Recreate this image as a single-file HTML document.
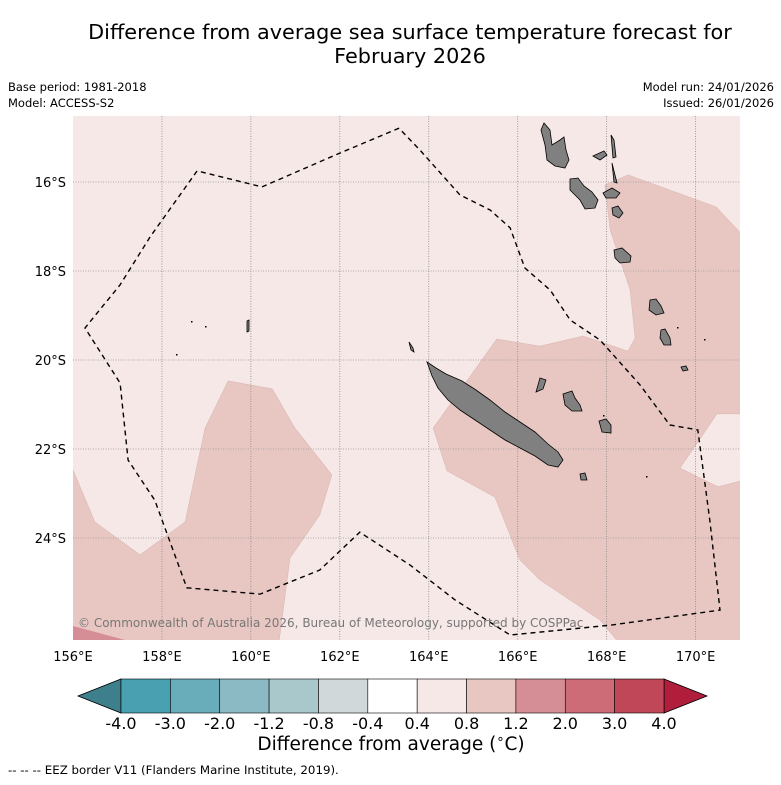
<!DOCTYPE html>
<html><head><meta charset="utf-8">
<style>
html,body{margin:0;padding:0;background:#fff;}
body{width:781px;height:781px;overflow:hidden;font-family:"DejaVu Sans","Liberation Sans",sans-serif;}
</style></head>
<body>
<svg id="chart" width="781" height="781" viewBox="0 0 781 781" xmlns="http://www.w3.org/2000/svg">
<text x="410" y="39" text-anchor="middle" font-size="20.8" fill="#000">Difference from average sea surface temperature forecast for</text>
<text x="410" y="63" text-anchor="middle" font-size="20.8" fill="#000">February 2026</text>
<text x="8" y="91" font-size="11.5">Base period: 1981-2018</text>
<text x="8" y="107" font-size="11.5">Model: ACCESS-S2</text>
<text x="774" y="91" text-anchor="end" font-size="11.5">Model run: 24/01/2026</text>
<text x="774" y="107" text-anchor="end" font-size="11.5">Issued: 26/01/2026</text>
<defs><clipPath id="mapclip"><rect x="73" y="116" width="667" height="524"/></clipPath></defs>
<g id="map" clip-path="url(#mapclip)"></g>
<g id="axes"></g>
<g id="cbar"></g>
<text x="391" y="750" text-anchor="middle" font-size="18.5">Difference from average (<tspan font-size="13" dy="-7">∘</tspan><tspan dy="7">C)</tspan></text>
<text x="8" y="774" font-size="11.8">--  --  -- EEZ border V11 (Flanders Marine Institute, 2019).</text>
</svg>
<script>
var lonTicks=[156,158,160,162,164,166,168,170];
var latTicks=[16,18,20,22,24];
var eezLon=[163.33,162.00,160.25,158.79,157.73,157.06,156.27,157.06,157.24,157.84,158.56,160.21,161.55,162.45,163.58,164.59,165.83,168.08,170.55,170.32,170.05,169.42,168.75,167.85,167.18,166.73,166.16,165.83,165.38,164.70,163.80,163.33];
var eezLat=[14.79,15.35,16.11,15.75,17.24,18.31,19.28,20.52,22.25,23.15,25.12,25.26,24.72,23.87,24.61,25.39,26.18,25.96,25.62,23.60,21.57,21.46,20.56,19.55,19.10,18.43,17.93,17.03,16.63,16.29,15.28,14.79];
var warmWestLon=[155.9,156.0,156.49,157.51,158.52,158.97,159.49,160.48,160.99,161.82,161.55,160.88,160.61,155.9];
var warmWestLat=[22.5,22.47,23.64,24.38,23.64,21.53,20.47,20.65,21.53,22.58,23.48,24.45,26.5,26.5];
var warmEastLon=[168.48,170.46,171.1,171.1,170.48,169.65,170.50,171.1,171.1,168.40,167.85,166.50,166.05,165.49,164.41,164.10,165.53,166.50,167.47,168.48,168.64,168.53,168.08,167.96];
var warmEastLat=[15.84,16.56,17.24,21.21,21.21,22.43,22.85,22.70,26.5,26.5,25.84,24.94,24.49,23.08,22.49,21.53,19.53,19.69,19.46,19.80,19.51,18.43,17.08,16.07];
var warmSWLon=[155.9,157.95,155.9];
var warmSWLat=[25.95,26.5,26.5];
var cbColors=["#3d7f8b","#48a0b1","#68adb9","#8bb9c4","#a9c8cc","#d0d8d9","#ffffff","#f5e8e6","#e8c7c3","#d68e96","#cd6b76","#c04757","#b01e3b"];
var cbLabels=["-4.0","-3.0","-2.0","-1.2","-0.8","-0.4","0.4","0.8","1.2","2.0","3.0","4.0"];

var NS="http://www.w3.org/2000/svg";
function xs(lon){return 73+(lon-156)*44.47;}
function ys(lat){return 182+(lat-16)*44.5;}
function mk(t,a,p){var e=document.createElementNS(NS,t);for(var k in a)e.setAttribute(k,a[k]);p.appendChild(e);return e;}
function pts(lo,la){return lo.map(function(v,i){return xs(v).toFixed(1)+","+ys(la[i]).toFixed(1);}).join(" ");}
var map=document.getElementById("map");
var bg=mk("rect",{x:73,y:116,width:667,height:524,fill:"#f5e8e6"},map);


var w1=mk("polygon",{points:pts(warmWestLon,warmWestLat),fill:"#e8c7c3",stroke:"#dcb8b4","stroke-width":0.6},map);


var w2=mk("polygon",{points:pts(warmEastLon,warmEastLat),fill:"#e8c7c3",stroke:"#dcb8b4","stroke-width":0.6},map);


var w3=mk("polygon",{points:pts(warmSWLon,warmSWLat),fill:"#d68e96"},map);


lonTicks.forEach(function(l){if(l===156)return;var g=mk("line",{x1:xs(l),x2:xs(l),y1:116,y2:640,stroke:"#888","stroke-width":0.8,"stroke-dasharray":"1,1.5"},map);

});
latTicks.forEach(function(l){var g=mk("line",{x1:73,x2:740,y1:ys(l),y2:ys(l),stroke:"#999","stroke-width":0.8,"stroke-dasharray":"1,1.5"},map);

});
var islands=[
"M427,362 L436,368 L446,374 L462,381 L476,390 L490,400 L505,412 L520,422 L535,432 L548,444 L558,452 L563,460 L558,467 L548,465 L535,456 L520,448 L505,440 L490,430 L475,420 L460,410 L448,400 L438,388 L432,376 Z",
"M544,123 L550,130 L552,145 L560,140 L564,137 L566,150 L569,160 L565,168 L555,166 L547,160 L545,145 L541,130 Z",
"M570,179 L578,178 L584,186 L592,192 L598,200 L595,208 L585,209 L580,200 L570,190 Z",
"M593,156 L604,151 L607,155 L600,160 Z",
"M611,135 L614,140 L616,157 L613,158 Z",
"M612,163 L615,175 L617,183 L614,182 Z",
"M603,193 L612,188 L620,193 L616,198 L606,198 Z",
"M612,208 L618,206 L623,213 L619,218 L613,215 Z",
"M614,250 L622,248 L631,256 L630,262 L620,263 L615,258 Z",
"M650,300 L656,299 L661,306 L664,313 L656,315 L649,310 Z",
"M661,330 L665,329 L670,338 L671,345 L664,345 L660,338 Z",
"M681,367 L686,366 L688,370 L683,371 Z",
"M563,394 L572,391 L575,398 L580,405 L582,411 L572,411 L565,405 Z",
"M599,421 L606,419 L611,425 L611,433 L602,432 Z",
"M540,378 L546,380 L543,389 L536,392 Z",
"M580,474 L585,473 L587,480 L581,480 Z",
"M409,342 L413,348 L414,352 L411,350 Z",
"M247,321 L249,320 L249,331 L247,332 Z"];
islands.forEach(function(d){var e=mk("path",{d:d,fill:"#808080",stroke:"#000","stroke-width":0.8},map);

});
[[191,321],[205,326],[176,354],[646,476],[603,415],[677,327],[704,339]].forEach(function(p){var e=mk("rect",{x:p[0],y:p[1],width:1.5,height:1.5,fill:"#000"},map);

});
var eez=mk("polyline",{points:pts(eezLon,eezLat),fill:"none",stroke:"#000","stroke-width":1.4,"stroke-dasharray":"5,4"},map);


var cp=mk("text",{x:78,y:627,"font-size":12,fill:"#777"},map);
cp.textContent="© Commonwealth of Australia 2026, Bureau of Meteorology, supported by COSPPac";


var ax=document.getElementById("axes");
lonTicks.forEach(function(l){var t=mk("text",{x:xs(l),y:661,"text-anchor":"middle","font-size":13},ax);t.textContent=l+"°E";

});
latTicks.forEach(function(l){var t=mk("text",{x:66,y:ys(l)+5,"text-anchor":"end","font-size":13},ax);t.textContent=l+"°S";

});
var cb=document.getElementById("cbar");
var x0=121,x1=664,y0=679,y1=713,n=cbColors.length-2,bw=(x1-x0)/n;
var lt=mk("polygon",{points:"78,696 "+x0+","+y0+" "+x0+","+y1,fill:cbColors[0],stroke:"#000","stroke-width":0.8},cb);


var rt=mk("polygon",{points:"707,696 "+x1+","+y0+" "+x1+","+y1,fill:cbColors[cbColors.length-1],stroke:"#000","stroke-width":0.8},cb);


for(var i=0;i<n;i++){var r=mk("rect",{x:x0+i*bw,y:y0,width:bw,height:y1-y0,fill:cbColors[i+1],stroke:"#000","stroke-width":0.6},cb);

}
cbLabels.forEach(function(s,i){var t=mk("text",{x:x0+i*bw,y:729,"text-anchor":"middle","font-size":16},cb);t.textContent=s;

});
</script>
</body></html>
